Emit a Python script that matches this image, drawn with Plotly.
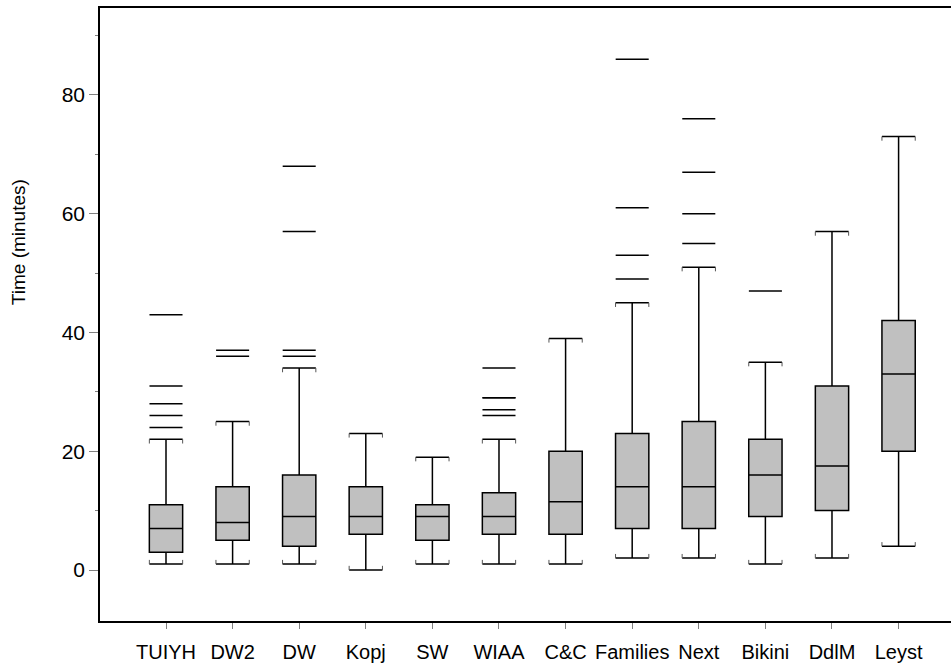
import plotly.graph_objects as go

# Session times per programme (minutes)
categories = ["TUIYH", "DW2", "DW", "Kopj", "SW", "WIAA", "C&C",
              "Families", "Next", "Bikini", "DdlM", "Leyst"]
lower_whisker = [1, 1, 1, 0, 1, 1, 1, 2, 2, 1, 2, 4]
quartile_1 = [3, 5, 4, 6, 5, 6, 6, 7, 7, 9, 10, 20]
medians = [7, 8, 9, 9, 9, 9, 11.5, 14, 14, 16, 17.5, 33]
quartile_3 = [11, 14, 16, 14, 11, 13, 20, 23, 25, 22, 31, 42]
upper_whisker = [22, 25, 34, 23, 19, 22, 39, 45, 51, 35, 57, 73]
outliers = [
    [24, 26, 28, 31, 43],
    [36, 37],
    [36, 37, 57, 68],
    [],
    [],
    [26, 27, 29, 29, 34],
    [],
    [49, 53, 61, 86],
    [55, 60, 67, 76],
    [47],
    [],
    [],
]

y_major = [0, 20, 40, 60, 80]

FONT = "Liberation Sans, Arial, sans-serif"
positions = list(range(len(categories)))
HALF = 0.25          # half box width in axis units
SERIF = 0.7          # length of the little end ticks on the whisker caps

fig = go.Figure()

fig.add_trace(go.Box(
    x=positions,
    q1=quartile_1,
    median=medians,
    q3=quartile_3,
    lowerfence=lower_whisker,
    upperfence=upper_whisker,
    boxpoints=False,
    width=2 * HALF,
    whiskerwidth=1,
    fillcolor="#c0c0c0",
    line=dict(color="black", width=1.5),
    showlegend=False,
    hoverinfo="skip",
))

# Short end ticks on the whisker caps (pointing into the whisker)
sx, sy = [], []
for p, lo, hi in zip(positions, lower_whisker, upper_whisker):
    for dx in (-HALF, HALF):
        sx += [p + dx, p + dx, None, p + dx, p + dx, None]
        sy += [hi, hi - SERIF, None, lo, lo + SERIF, None]
fig.add_trace(go.Scatter(
    x=sx, y=sy, mode="lines",
    line=dict(color="#555555", width=1),
    showlegend=False, hoverinfo="skip",
))

# Outliers drawn as horizontal dashes spanning the box width
ox, oy = [], []
for p, vals in zip(positions, outliers):
    for v in vals:
        ox.append(p)
        oy.append(v)
fig.add_trace(go.Scatter(
    x=ox, y=oy, mode="markers",
    marker=dict(symbol="line-ew", size=23.6,
                line=dict(color="black", width=1.5)),
    showlegend=False, hoverinfo="skip",
))

fig.update_layout(
    width=951, height=667, autosize=False,
    margin=dict(l=100, r=0, t=8, b=46),
    paper_bgcolor="white", plot_bgcolor="white",
    font=dict(family=FONT, color="black"),
    showlegend=False,
    annotations=[dict(
        text="Time (minutes)", textangle=-90,
        xref="paper", yref="paper", x=-0.0964, y=0.618,
        xanchor="center", yanchor="middle", showarrow=False,
        font=dict(family=FONT, size=19, color="black"),
    )],
)

fig.update_xaxes(
    range=[-0.991, 11.787],
    tickmode="array", tickvals=positions, ticktext=categories,
    ticks="outside", ticklen=6, tickwidth=1, tickcolor="#808080",
    tickfont=dict(family=FONT, size=20, color="black"),
    ticklabelstandoff=6,
    showline=True, linecolor="black", linewidth=2, mirror=True,
    showgrid=False, zeroline=False,
)

fig.update_yaxes(
    range=[-8.59, 94.65],
    tickmode="array", tickvals=y_major, ticktext=[str(v) for v in y_major],
    ticks="outside", ticklen=9, tickwidth=1, tickcolor="#808080",
    tickfont=dict(family=FONT, size=21, color="black"),
    ticklabelstandoff=0,
    minor=dict(tickmode="array", tickvals=[10, 30, 50, 70, 90],
               ticks="outside", ticklen=3, tickwidth=1, tickcolor="#808080",
               showgrid=False),
    showline=True, linecolor="black", linewidth=1.5, mirror=False,
    showgrid=False, zeroline=False,
)

fig.write_html("out.html")
